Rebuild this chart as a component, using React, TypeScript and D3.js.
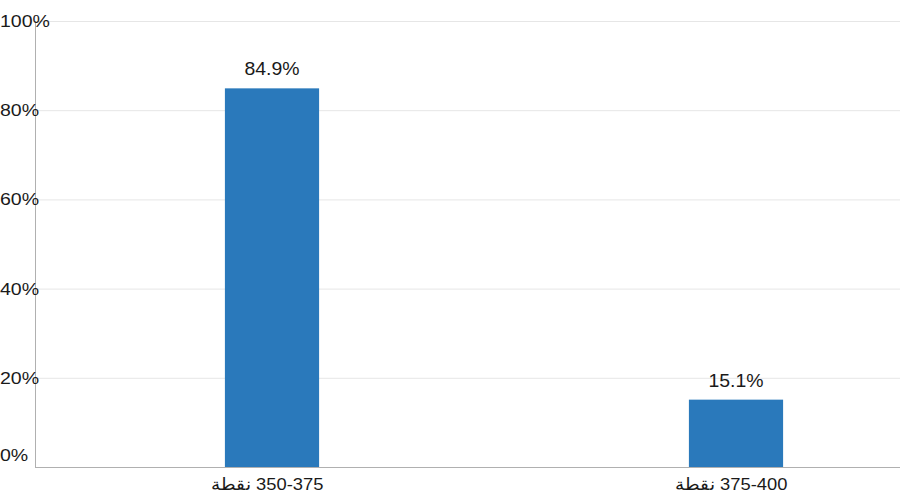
import { useEffect, useRef } from "react";
import * as d3 from "d3";

const categories = ["350-375 نقطة", "375-400 نقطة"];
const shares = [84.9, 15.1];
const valueLabels = ["84.9%", "15.1%"];
const yTicks = [0, 20, 40, 60, 80, 100];

const BLUE = "#2a79bb";
const FONT = "Liberation Sans, Arial, sans-serif";

export default function App() {
  const ref = useRef<SVGSVGElement>(null);

  useEffect(() => {
    if (!ref.current) return;
    const width = 900;
    const height = 500;
    const left = 35;
    const right = 900;
    const top = 21;
    const bottom = 467;

    const svg = d3.select(ref.current);
    svg.selectAll("*").remove();
    svg.attr("width", width).attr("height", height);

    const x = d3
      .scaleBand()
      .domain(categories)
      .range([40, 968])
      .paddingInner(0.797)
      .paddingOuter(0.3985);

    const y = d3.scaleLinear().domain([0, 100]).range([bottom, top]);

    // gridlines
    svg
      .append("g")
      .attr("stroke", "#e6e6e6")
      .selectAll("line")
      .data(yTicks.filter((d) => d > 0))
      .join("line")
      .attr("x1", left)
      .attr("x2", right)
      .attr("y1", (d) => y(d) + 0.5)
      .attr("y2", (d) => y(d) + 0.5);

    // axes
    svg
      .append("line")
      .attr("x1", left + 0.5)
      .attr("x2", left + 0.5)
      .attr("y1", top)
      .attr("y2", bottom)
      .attr("stroke", "#b0b0b0");
    svg
      .append("line")
      .attr("x1", left)
      .attr("x2", right)
      .attr("y1", bottom + 0.5)
      .attr("y2", bottom + 0.5)
      .attr("stroke", "#b0b0b0");

    // y labels (slightly stretched like the source)
    svg
      .append("g")
      .selectAll("text")
      .data(yTicks)
      .join("text")
      .attr(
        "transform",
        (d) => `translate(0,${d === 0 ? y(d) - 12 : y(d)}) scale(1.15,1)`
      )
      .attr("dy", "0.35em")
      .attr("fill", "#1a1a1a")
      .attr("font-family", FONT)
      .attr("font-size", 17)
      .text((d) => `${d}%`);

    // bars
    svg
      .append("g")
      .selectAll("rect")
      .data(categories)
      .join("rect")
      .attr("x", (d) => x(d) ?? 0)
      .attr("width", x.bandwidth())
      .attr("y", (_, i) => y(shares[i]))
      .attr("height", (_, i) => y(0) - y(shares[i]))
      .attr("fill", BLUE);

    // value labels
    svg
      .append("g")
      .selectAll("text")
      .data(categories)
      .join("text")
      .attr(
        "transform",
        (d, i) =>
          `translate(${(x(d) ?? 0) + x.bandwidth() / 2},${y(shares[i]) - 13}) scale(1.08,1)`
      )
      .attr("text-anchor", "middle")
      .attr("fill", "#1a1a1a")
      .attr("font-family", FONT)
      .attr("font-size", 18)
      .text((_, i) => valueLabels[i]);

    // x labels
    svg
      .append("g")
      .selectAll("text")
      .data(categories)
      .join("text")
      .attr(
        "transform",
        (d) =>
          `translate(${(x(d) ?? 0) + x.bandwidth() / 2 - 5},${bottom + 23}) scale(1.08,1)`
      )
      .attr("text-anchor", "middle")
      .attr("direction", "rtl")
      .attr("fill", "#1a1a1a")
      .attr("font-family", FONT)
      .attr("font-size", 17)
      .text((d) => d);
  }, []);

  return (
    <div style={{ position: "absolute", left: 0, top: 0 }}>
      <svg ref={ref} style={{ display: "block" }} />
    </div>
  );
}
